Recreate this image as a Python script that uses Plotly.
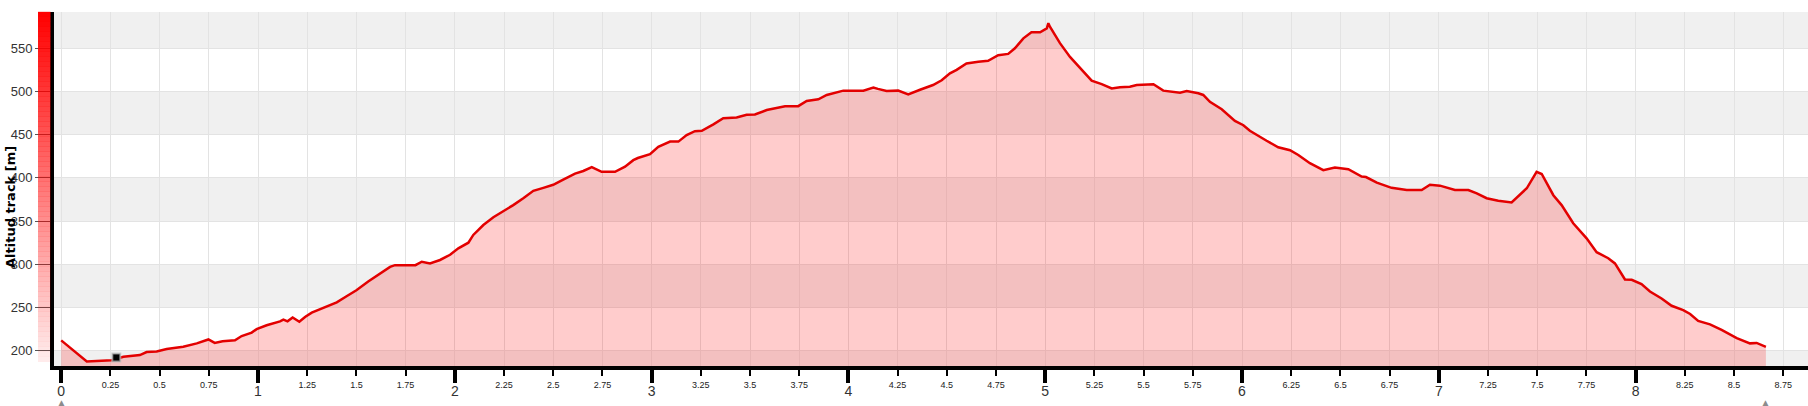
import plotly.graph_objects as go

# ---- data ----
km = [0.00, 0.13, 0.257, 0.316, 0.40, 0.434, 0.485, 0.536, 0.62, 0.689, 0.748, 0.78, 0.82, 0.883,
      0.917, 0.968, 0.993, 1.044, 1.112, 1.129, 1.15, 1.176, 1.21, 1.239, 1.273, 1.349, 1.40, 1.45,
      1.50, 1.56, 1.60, 1.671, 1.696, 1.80, 1.832, 1.874, 1.925, 1.976, 2.018, 2.069, 2.094, 2.145,
      2.196, 2.246, 2.297, 2.348, 2.399, 2.45, 2.50, 2.551, 2.611, 2.653, 2.696, 2.746, 2.814, 2.865,
      2.907, 2.93, 2.992, 3.034, 3.094, 3.136, 3.178, 3.22, 3.255, 3.314, 3.364, 3.432, 3.483, 3.525,
      3.585, 3.678, 3.745, 3.788, 3.847, 3.89, 3.974, 4.076, 4.127, 4.15, 4.194, 4.253, 4.304, 4.364,
      4.43, 4.474, 4.516, 4.55, 4.60, 4.66, 4.71, 4.761, 4.812, 4.846, 4.889, 4.93, 4.974, 5.008,
      5.016, 5.024, 5.075, 5.126, 5.194, 5.236, 5.287, 5.338, 5.38, 5.43, 5.465, 5.55, 5.60, 5.685,
      5.719, 5.778, 5.803, 5.837, 5.897, 5.964, 6.007, 6.04, 6.125, 6.184, 6.244, 6.286, 6.345, 6.413,
      6.472, 6.54, 6.608, 6.63, 6.685, 6.76, 6.837, 6.913, 6.955, 7.006, 7.082, 7.15, 7.193, 7.243,
      7.302, 7.37, 7.447, 7.497, 7.523, 7.582, 7.624, 7.683, 7.751, 7.802, 7.861, 7.895, 7.946, 7.98,
      8.03, 8.073, 8.132, 8.183, 8.242, 8.277, 8.318, 8.378, 8.437, 8.514, 8.581, 8.615, 8.662]
alt = [212, 187.5, 189, 193, 195, 198.5, 199, 202, 204.5, 208.5, 213, 209, 211, 212,
       217, 221, 225, 229.5, 234, 236, 234, 238.5, 233.5, 239, 244, 251, 256, 263,
       270, 280, 286.5, 297, 299, 299, 303, 301, 305, 311, 318.5, 325, 334, 345.5,
       354.5, 361, 368.5, 376.5, 385, 388.5, 392, 398, 405, 408, 412.5, 407, 407, 413,
       420.5, 423, 427.5, 436, 442, 442, 449.5, 454, 454.5, 462, 469, 470, 473, 473.5,
       478.5, 483, 483, 489, 491, 496, 501, 501, 504.5, 503, 500.5, 501, 496.5, 502,
       507.5, 513, 521, 525, 532.5, 534.5, 535.5, 542, 543.5, 550, 561.5, 568.5, 568.5, 573,
       579, 575, 556, 540, 523, 512.5, 508.5, 503.5, 505, 505.5, 507.5, 508.5, 501, 498.5,
       500.5, 498, 496, 488, 479.5, 466, 461, 454.5, 443, 435.5, 432, 426.5, 417, 409,
       412, 410, 401.5, 401, 394.5, 388.5, 386, 386, 392, 391, 386, 386, 382, 376.5,
       373.5, 371.5, 388, 407, 404.5, 380, 368.5, 347.5, 330, 314, 307, 301, 282.5, 282,
       277, 268.5, 260.5, 252, 247, 242.5, 234.5, 230.5, 224, 214.5, 208.5, 209, 204.5]

marker_km = [0.28]
marker_alt = [192]

major_ticks = [0, 1, 2, 3, 4, 5, 6, 7, 8]
minor_ticks = [0.25, 0.5, 0.75, 1.25, 1.5, 1.75, 2.25, 2.5, 2.75, 3.25, 3.5, 3.75, 4.25, 4.5, 4.75,
               5.25, 5.5, 5.75, 6.25, 6.5, 6.75, 7.25, 7.5, 7.75, 8.25, 8.5, 8.75]
y_ticks = [200, 250, 300, 350, 400, 450, 500, 550]
y_bands = [(150, 200), (250, 300), (350, 400), (450, 500), (550, 650)]
y_title = "Altitud track [m]"

X_RANGE = [-0.0366, 8.876]
Y_RANGE = [182.3, 592]
FONT = "Liberation Sans, Arial, sans-serif"

W, H = 1808, 406
ML, MR, MT, MB = 54, 0, 12, 40
PW, PH = W - ML - MR, H - MT - MB

fig = go.Figure()

fig.add_trace(go.Scatter(
    x=km, y=alt, mode="lines", fill="tozeroy",
    line=dict(color="#e30000", width=2.5),
    fillcolor="rgba(255,0,0,0.2)", hoverinfo="skip", showlegend=False))

fig.add_trace(go.Scatter(
    x=marker_km, y=marker_alt, xaxis="x2", mode="markers",
    marker=dict(symbol="square", size=8, color="black",
                line=dict(color="rgba(190,190,190,0.7)", width=2)),
    hoverinfo="skip", showlegend=False))

shapes = []
for lo, hi in y_bands:
    shapes.append(dict(type="rect", xref="paper", yref="y", x0=0, x1=1, y0=lo, y1=hi,
                       fillcolor="#f0f0f0", line=dict(width=0), layer="below"))

# gradient bar beside the y axis
n = 70
top_px, bot_px = 12, 362
for i in range(n):
    p0 = top_px + (bot_px - top_px) * i / n
    p1 = top_px + (bot_px - top_px) * (i + 1) / n
    a = 1.0 - 0.93 * (i + 0.5) / n
    shapes.append(dict(type="rect", xref="paper", yref="paper",
                       x0=(38 - ML) / PW, x1=(50.5 - ML) / PW,
                       y0=(H - MB - p1) / PH, y1=(H - MB - p0) / PH + 0.0005,
                       fillcolor=f"rgba(255,0,0,{a:.3f})", line=dict(width=0), layer="above"))

annotations = [
    dict(text=y_title, textangle=-90, xref="paper", yref="paper",
         x=(10 - ML) / PW, y=(H - MB - 207) / PH, xanchor="center", yanchor="middle",
         showarrow=False,
         font=dict(family="DejaVu Sans, sans-serif", size=13, color="black", weight="bold")),
]
for xv in [km[0], km[-1]]:
    annotations.append(dict(text="▲", xref="x", yref="paper", x=xv, y=-(396 - (H - MB)) / PH,
                            yanchor="top", showarrow=False,
                            font=dict(family="DejaVu Sans", size=9, color="#8c8c8c")))

fig.update_layout(
    width=W, height=H, margin=dict(l=ML, r=MR, t=MT, b=MB, pad=0),
    paper_bgcolor="white", plot_bgcolor="white",
    shapes=shapes, annotations=annotations, showlegend=False,
    xaxis=dict(range=X_RANGE, tickmode="array", tickvals=major_ticks,
               ticktext=[str(v) for v in major_ticks],
               ticks="outside", ticklen=13, tickwidth=4, tickcolor="black",
               showline=True, linewidth=4, linecolor="black",
               showgrid=True, gridcolor="#e3e3e3", gridwidth=1, zeroline=False,
               tickfont=dict(family=FONT, size=14, color="#333"),
               ticklabelstandoff=-4,
               minor=dict(tickvals=minor_ticks, ticks="outside", ticklen=6, tickwidth=2,
                          tickcolor="black", showgrid=True, gridcolor="#e3e3e3", gridwidth=1)),
    xaxis2=dict(range=X_RANGE, overlaying="x", anchor="y", side="bottom",
                tickmode="array", tickvals=minor_ticks,
                ticktext=[f"{v:g}" for v in minor_ticks],
                ticks="", showline=False, showgrid=False, zeroline=False,
                tickfont=dict(family=FONT, size=9, color="#222"),
                ticklabelstandoff=12),
    yaxis=dict(range=Y_RANGE, tickmode="array", tickvals=y_ticks,
               ticks="outside", ticklen=15, tickwidth=1, tickcolor="#555",
               showline=True, linewidth=4, linecolor="black",
               showgrid=True, gridcolor="#e3e3e3", gridwidth=1, zeroline=False,
               tickfont=dict(family=FONT, size=13, color="#333"),
               ticklabelstandoff=0),
)

fig.write_html("out.html", include_plotlyjs=True, full_html=True,
               config={"displayModeBar": False},
               post_script="document.body.style.margin='0';document.body.style.overflow='hidden';")
